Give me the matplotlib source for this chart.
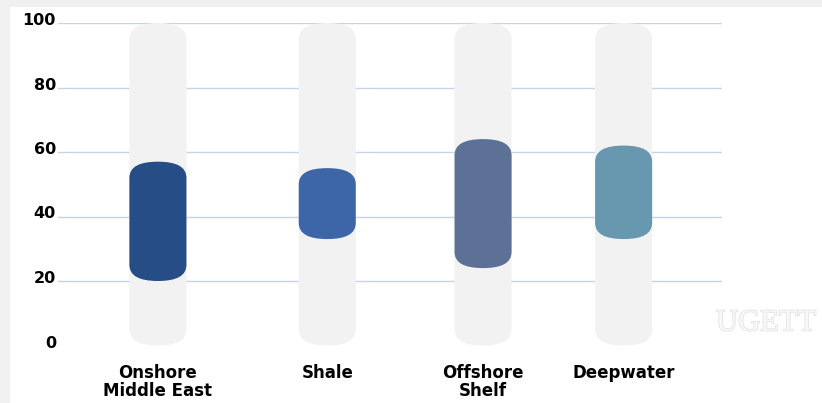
import matplotlib.pyplot as plt
from matplotlib.patches import FancyBboxPatch, Rectangle
from matplotlib.transforms import ScaledTranslation
import matplotlib.patheffects as pe

plt.rcParams["font.family"] = ["DejaVu Sans"]

# data
categories = ["Onshore\nMiddle East", "Shale", "Offshore\nShelf", "Deepwater"]
low_values = [20, 33, 24, 33]
high_values = [57, 55, 64, 62]
scale_min = 0
scale_max = 100
yticks = [0, 20, 40, 60, 80, 100]
bar_colors = ["#264D85", "#3D66A8", "#5D7197", "#6898B0"]

# layout (category centres are not evenly spaced in the original)
x_pos = [0, 1, 1.92, 2.75]
bar_w = 0.337
cap_r = 0.168      # horizontal corner radius (x units)
cap_h = 5.0        # vertical corner radius (y units)

fig = plt.figure(figsize=(8.22, 4.03), dpi=100, facecolor="#f0f0f0")
# white panel, grey strip on the top and left
fig.patches.append(Rectangle((10 / 822, 0), 1, 1 - 7 / 403, transform=fig.transFigure,
                             facecolor="white", edgecolor="none", zorder=-10))

ax = fig.add_axes([58 / 822, (403 - 345.5) / 403, 664 / 822, 322.5 / 403])
ax.set_facecolor("none")
ax.set_xlim(-0.59, 3.331)
ax.set_ylim(scale_min, scale_max)

for y in yticks[1:]:
    ax.axhline(y, color="#c6d3ea", lw=1.0, zorder=1)


def capsule(x, y0, y1, color, z):
    p = FancyBboxPatch((x - bar_w / 2, y0), bar_w, y1 - y0,
                       boxstyle=f"round,pad=0,rounding_size={cap_r}",
                       mutation_aspect=cap_h / cap_r,
                       facecolor=color, edgecolor="none", zorder=z, clip_on=False)
    ax.add_patch(p)


for i, x in enumerate(x_pos):
    capsule(x, scale_min, scale_max, "#f2f2f2", 2)
    capsule(x, low_values[i], high_values[i], bar_colors[i], 3)

ax.set_yticks(yticks)
ax.set_yticklabels([str(v) for v in yticks], fontsize=11.5, fontweight="bold")
ax.set_xticks(x_pos)
ax.set_xticklabels(categories, fontsize=12, fontweight="bold", linespacing=1.05)
ax.tick_params(axis="y", length=0, pad=1.5)
ax.tick_params(axis="x", length=0, pad=13)
# labels sit a little above their grid lines
lift = ScaledTranslation(0, 4 / 100, fig.dpi_scale_trans)
for lbl in ax.get_yticklabels():
    lbl.set_transform(lbl.get_transform() + lift)
for s in ax.spines.values():
    s.set_visible(False)

fig.text(766 / 822, 1 - 323 / 403, "UGETT", family="Liberation Serif", fontsize=22,
         color="#f8f8f8", ha="center", va="center",
         path_effects=[pe.withStroke(linewidth=1.2, foreground="#e4e4e4")])

fig.savefig("out.png", dpi=100, facecolor=fig.get_facecolor())
